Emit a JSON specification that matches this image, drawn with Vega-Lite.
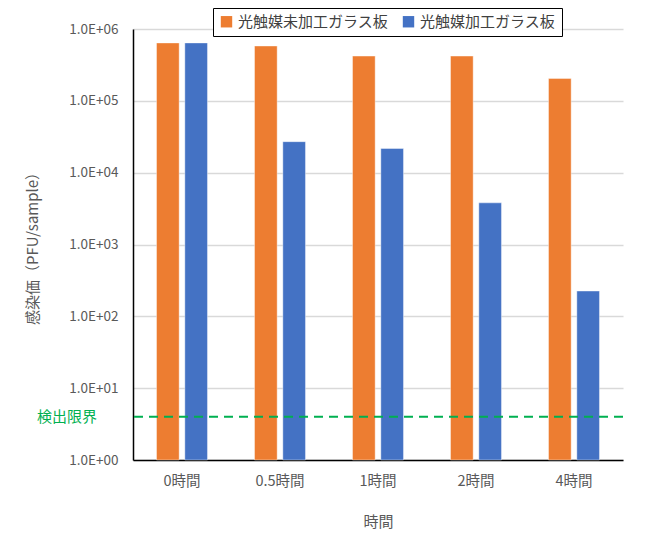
{
  "$schema": "https://vega.github.io/schema/vega-lite/v6.json",
  "width": 490,
  "height": 431,
  "autosize": {"type": "none"},
  "padding": {"left": 133, "top": 29, "right": 25, "bottom": 96},
  "background": "white",
  "config": {
    "font": "Noto Sans CJK JP",
    "view": {"stroke": null}
  },
  "datasets": {
    "bars": [
      {"time": "0時間", "series": "光触媒未加工ガラス板", "value": 640000},
      {"time": "0時間", "series": "光触媒加工ガラス板", "value": 640000},
      {"time": "0.5時間", "series": "光触媒未加工ガラス板", "value": 580000},
      {"time": "0.5時間", "series": "光触媒加工ガラス板", "value": 27000},
      {"time": "1時間", "series": "光触媒未加工ガラス板", "value": 420000},
      {"time": "1時間", "series": "光触媒加工ガラス板", "value": 21700},
      {"time": "2時間", "series": "光触媒未加工ガラス板", "value": 420000},
      {"time": "2時間", "series": "光触媒加工ガラス板", "value": 3800},
      {"time": "4時間", "series": "光触媒未加工ガラス板", "value": 205000},
      {"time": "4時間", "series": "光触媒加工ガラス板", "value": 225}
    ],
    "limit": [{"label": "検出限界", "value": 4}]
  },
  "layer": [
    {
      "data": {"name": "bars"},
      "mark": {"type": "bar", "stroke": "#FFFFFF", "strokeOpacity": 0.4, "strokeWidth": 1},
      "encoding": {
        "x": {
          "field": "time",
          "type": "nominal",
          "sort": null,
          "scale": {"paddingInner": 0.48, "paddingOuter": 0.24},
          "axis": {
            "title": "時間",
            "titleFontSize": 15,
            "titleFontWeight": "normal",
            "titleColor": "#595959",
            "titlePadding": 27,
            "labelAngle": 0,
            "labelFontSize": 14.5,
            "labelColor": "#595959",
            "labelPadding": 14,
            "ticks": false,
            "domainColor": "#000000",
            "domainWidth": 1.5
          }
        },
        "xOffset": {
          "field": "series",
          "type": "nominal",
          "sort": ["光触媒未加工ガラス板", "光触媒加工ガラス板"],
          "scale": {"paddingInner": 0.2, "paddingOuter": 0}
        },
        "y": {
          "field": "value",
          "type": "quantitative",
          "stack": null,
          "scale": {"type": "log", "domain": [1, 1000000], "nice": false},
          "axis": {
            "title": "感染価（PFU/sample）",
            "titleFontSize": 15,
            "titleFontWeight": "normal",
            "titleColor": "#595959",
            "titlePadding": 28,
            "values": [1, 10, 100, 1000, 10000, 100000, 1000000],
            "labelExpr": "'1.0E+0' + round(log(datum.value) / LN10)",
            "labelFontSize": 13.5,
            "labelColor": "#595959",
            "labelPadding": 15,
            "ticks": false,
            "grid": true,
            "gridColor": "#D9D9D9",
            "gridWidth": 1.5,
            "domainColor": "#000000",
            "domainWidth": 1.5
          }
        },
        "color": {
          "field": "series",
          "type": "nominal",
          "scale": {
            "domain": ["光触媒未加工ガラス板", "光触媒加工ガラス板"],
            "range": ["#ED7D31", "#4472C4"]
          },
          "legend": {
            "title": null,
            "orient": "none",
            "direction": "horizontal",
            "legendX": 80,
            "legendY": -21,
            "symbolType": "square",
            "symbolSize": 130,
            "symbolStrokeWidth": 0,
            "labelFontSize": 15,
            "labelColor": "#404040",
            "columnPadding": 12,
            "padding": 6,
            "strokeColor": "#000000",
            "fillColor": "white",
            "encode": {"legend": {"update": {"strokeWidth": {"value": 2}}}}
          }
        }
      }
    },
    {
      "data": {"name": "limit"},
      "mark": {"type": "rule", "color": "#00B050", "strokeWidth": 2, "strokeDash": [9, 6]},
      "encoding": {
        "y": {"field": "value", "type": "quantitative"}
      }
    },
    {
      "data": {"name": "limit"},
      "mark": {"type": "text", "align": "right", "baseline": "middle", "fontSize": 15, "color": "#00B050", "dx": -36},
      "encoding": {
        "x": {"value": 0},
        "y": {"field": "value", "type": "quantitative"},
        "text": {"field": "label"}
      }
    }
  ]
}
